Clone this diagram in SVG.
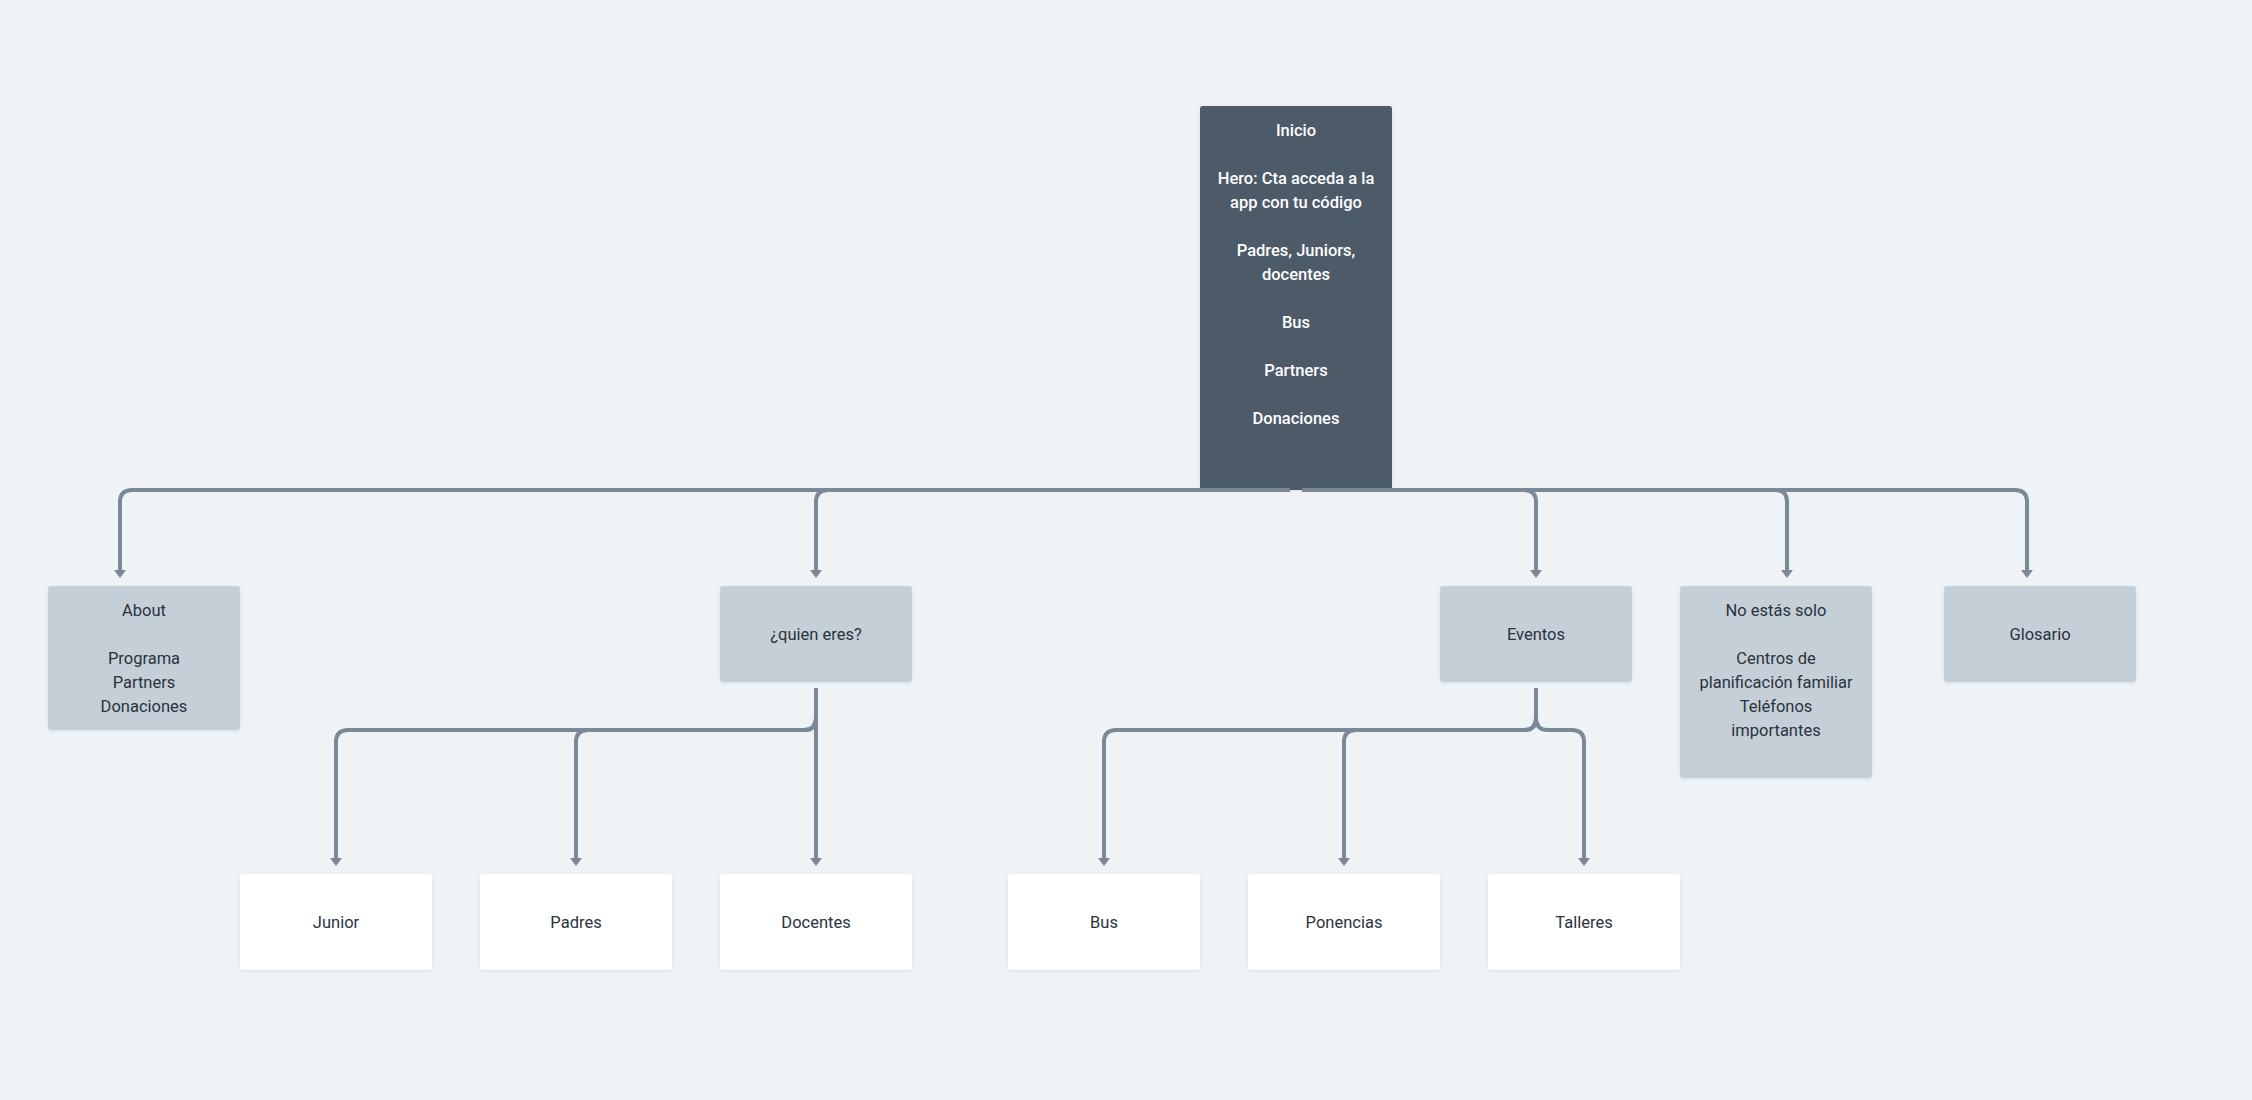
<svg xmlns="http://www.w3.org/2000/svg" width="2252" height="1100" viewBox="0 0 2252 1100">
<style>
  .root{fill:#4d5a67}
  .l1{fill:#c5cfd8}
  .l2{fill:#ffffff}
  .box{filter:url(#sh)}
  text{font-family:Roboto,"Liberation Sans",sans-serif;font-size:16.5px;text-anchor:middle;dominant-baseline:central}
  .tw{fill:#ffffff;font-weight:500}
  .td{fill:#2a333d}
  .conn path{fill:none;stroke:#7b8896;stroke-width:4}
</style>
<defs>
  <filter id="sh" x="-10%" y="-10%" width="120%" height="120%">
    <feDropShadow dx="0" dy="1" stdDeviation="1.5" flood-color="#3c4a57" flood-opacity="0.12"/>
  </filter>
  <marker id="arr" markerUnits="userSpaceOnUse" viewBox="0 0 8 12" markerWidth="8" markerHeight="12" refX="0" refY="6" orient="auto">
    <path d="M0,0 L8,6 L0,12 z" fill="#7b8896"/>
  </marker>
</defs>
<rect width="2252" height="1100" fill="#eff3f6"/>

<g id="n-inicio">
  <rect class="root box" x="1200" y="106" width="192" height="384" rx="3"/>
  <text class="tw" x="1296" y="130">Inicio</text>
  <text class="tw" x="1296" y="178">Hero: Cta acceda a la</text>
  <text class="tw" x="1296" y="202">app con tu código</text>
  <text class="tw" x="1296" y="250">Padres, Juniors,</text>
  <text class="tw" x="1296" y="274">docentes</text>
  <text class="tw" x="1296" y="322">Bus</text>
  <text class="tw" x="1296" y="370">Partners</text>
  <text class="tw" x="1296" y="418">Donaciones</text>
</g>

<g class="conn" id="connectors">
  <path d="M1290,490 H132 Q120,490 120,502 V570" marker-end="url(#arr)"/>
  <path d="M1290,490 H828 Q816,490 816,502 V570" marker-end="url(#arr)"/>
  <path d="M1302,490 H1524 Q1536,490 1536,502 V570" marker-end="url(#arr)"/>
  <path d="M1302,490 H1775 Q1787,490 1787,502 V570" marker-end="url(#arr)"/>
  <path d="M1302,490 H2015 Q2027,490 2027,502 V570" marker-end="url(#arr)"/>
  <path d="M816,688 V718 Q816,730 804,730 H348 Q336,730 336,742 V858" marker-end="url(#arr)"/>
  <path d="M816,688 V718 Q816,730 804,730 H588 Q576,730 576,742 V858" marker-end="url(#arr)"/>
  <path d="M816,688 V858" marker-end="url(#arr)"/>
  <path d="M1536,688 V718 Q1536,730 1524,730 H1116 Q1104,730 1104,742 V858" marker-end="url(#arr)"/>
  <path d="M1536,688 V718 Q1536,730 1524,730 H1356 Q1344,730 1344,742 V858" marker-end="url(#arr)"/>
  <path d="M1536,688 V718 Q1536,730 1548,730 H1572 Q1584,730 1584,742 V858" marker-end="url(#arr)"/>
</g>

<g id="n-about">
  <rect class="l1 box" x="48" y="586" width="192" height="144" rx="3"/>
  <text class="td" x="144" y="610">About</text>
  <text class="td" x="144" y="658">Programa</text>
  <text class="td" x="144" y="682">Partners</text>
  <text class="td" x="144" y="706">Donaciones</text>
</g>
<g id="n-quien">
  <rect class="l1 box" x="720" y="586" width="192" height="96" rx="3"/>
  <text class="td" x="816" y="634">¿quien eres?</text>
</g>
<g id="n-eventos">
  <rect class="l1 box" x="1440" y="586" width="192" height="96" rx="3"/>
  <text class="td" x="1536" y="634">Eventos</text>
</g>
<g id="n-noestas">
  <rect class="l1 box" x="1680" y="586" width="192" height="192" rx="3"/>
  <text class="td" x="1776" y="610">No estás solo</text>
  <text class="td" x="1776" y="658">Centros de</text>
  <text class="td" x="1776" y="682">planificación familiar</text>
  <text class="td" x="1776" y="706">Teléfonos</text>
  <text class="td" x="1776" y="730">importantes</text>
</g>
<g id="n-glosario">
  <rect class="l1 box" x="1944" y="586" width="192" height="96" rx="3"/>
  <text class="td" x="2040" y="634">Glosario</text>
</g>

<g id="n-junior">
  <rect class="l2 box" x="240" y="874" width="192" height="96" rx="3"/>
  <text class="td" x="336" y="922">Junior</text>
</g>
<g id="n-padres">
  <rect class="l2 box" x="480" y="874" width="192" height="96" rx="3"/>
  <text class="td" x="576" y="922">Padres</text>
</g>
<g id="n-docentes">
  <rect class="l2 box" x="720" y="874" width="192" height="96" rx="3"/>
  <text class="td" x="816" y="922">Docentes</text>
</g>
<g id="n-bus">
  <rect class="l2 box" x="1008" y="874" width="192" height="96" rx="3"/>
  <text class="td" x="1104" y="922">Bus</text>
</g>
<g id="n-ponencias">
  <rect class="l2 box" x="1248" y="874" width="192" height="96" rx="3"/>
  <text class="td" x="1344" y="922">Ponencias</text>
</g>
<g id="n-talleres">
  <rect class="l2 box" x="1488" y="874" width="192" height="96" rx="3"/>
  <text class="td" x="1584" y="922">Talleres</text>
</g>
</svg>
